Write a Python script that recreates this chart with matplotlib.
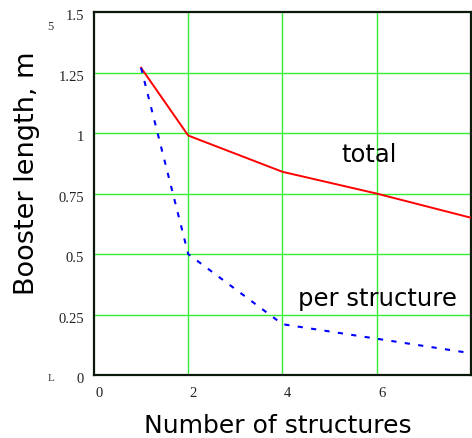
import matplotlib
matplotlib.use("Agg")
import matplotlib.pyplot as plt

# Booster length versus number of accelerating structures
n_structures = [1, 2, 4, 6, 8]
total_length = [1.27, 0.99, 0.84, 0.75, 0.65]
per_structure = [1.27, 0.50, 0.21, 0.15, 0.09]

x_ticks = [0, 2, 4, 6]
x_tick_labels = ["0", "2", "4", "6"]
y_ticks = [0, 0.25, 0.5, 0.75, 1, 1.25, 1.5]
y_tick_labels = ["0", "0.25", "0.5", "0.75", "1", "1.25", "1.5"]

fig = plt.figure(figsize=(4.72, 4.39), dpi=100)
ax = fig.add_axes([0.199, 0.1435, 0.799, 0.8265])

ax.plot(n_structures, total_length, color="#ff0000", lw=1.4, zorder=3)
ax.plot(n_structures, per_structure, color="#0000ff", lw=1.5,
        dashes=(2.5, 4), zorder=3)

ax.set_xlim(0, 8)
ax.set_ylim(0, 1.5)

# green grid lines
for gx in [2, 4, 6]:
    ax.axvline(gx, color="#33ee33", lw=1.0, zorder=1)
for gy in [0.25, 0.5, 0.75, 1.0, 1.25]:
    ax.axhline(gy, color="#33ee33", lw=1.0, zorder=1)

for s in ax.spines.values():
    s.set_color("#0a1a0a")
    s.set_linewidth(1.6)

ax.set_xticks([])
ax.set_yticks([])

serif = "Liberation Serif"
for t, lab in zip(x_ticks, x_tick_labels):
    ax.annotate(lab, xy=(t, 0), xytext=(1, -8), textcoords="offset points",
                ha="left", va="top", fontsize=10.5, family=serif,
                color="#222222", annotation_clip=False)
for t, lab in zip(y_ticks, y_tick_labels):
    ax.annotate(lab, xy=(0, t), xytext=(-7, -2.5), textcoords="offset points",
                ha="right", va="center", fontsize=10.5, family=serif,
                color="#222222", annotation_clip=False)

ax.text(5.83, 0.915, "total", fontsize=17.5, ha="center", va="center",
        family="DejaVu Sans")
ax.text(6.02, 0.32, "per structure", fontsize=17.5, ha="center", va="center",
        family="DejaVu Sans")

fig.text(0.588, 0.03, "Number of structures", fontsize=18,
         ha="center", va="center", family="DejaVu Sans")
fig.text(0.057, 0.606, "Booster length, m", fontsize=19.5, rotation=90,
         ha="center", va="center", family="DejaVu Sans")

# small clipped marks at the left edge
fig.text(0.106, 0.938, "5", fontsize=9, family=serif, color="#333333",
         ha="center", va="center")
fig.text(0.108, 0.137, "L", fontsize=8, family=serif, color="#333333",
         ha="center", va="center")

fig.savefig("out.png", dpi=100)
